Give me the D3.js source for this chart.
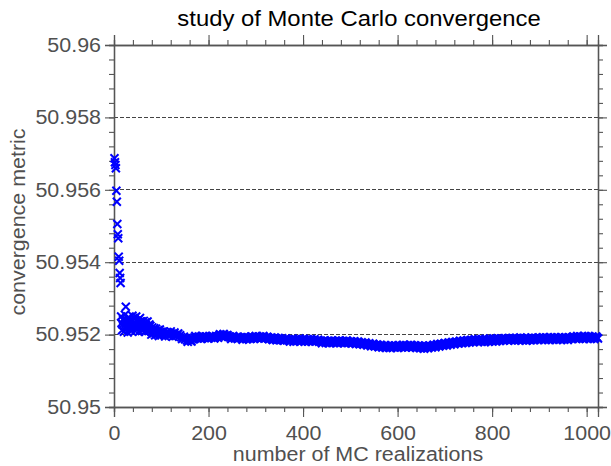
<!DOCTYPE html>
<html>
<head>
<meta charset="utf-8">
<script src="https://cdn.jsdelivr.net/npm/d3@7"></script>
<style>
  html, body { margin: 0; padding: 0; background: #fff; }
  svg { display: block; }
  text { font-family: "Liberation Sans", Arial, Helvetica, sans-serif; }
</style>
</head>
<body>
<svg id="chart" width="611" height="466"></svg>
<script>
// ---------------- data ----------------
const titleText = "study of Monte Carlo convergence";
const xLabelText = "number of MC realizations";
const yLabelText = "convergence metric";

const xDomain = [0, 1024];
const yDomain = [50.95, 50.96];
const xTickValues = [0, 200, 400, 600, 800, 1000];
const xTickLabels = ["0", "200", "400", "600", "800", "1000"];
const yTickValues = [50.95, 50.952, 50.954, 50.956, 50.958, 50.96];
const yTickLabels = ["50.95", "50.952", "50.954", "50.956", "50.958", "50.96"];
const yGridValues = [50.952, 50.954, 50.956, 50.958];

// first realizations (read individually)
const earlyRealization = [1, 2, 3, 4, 5, 6, 7, 8, 9, 10, 11, 12, 13, 14, 25];
const earlyMetric = [
  50.956870, 50.956760, 50.956685, 50.956594, 50.955975, 50.955671, 50.955055,
  50.954771, 50.954660, 50.954152, 50.954041, 50.953702, 50.953564, 50.953425,
  50.952770
];

// realizations 15..101 (odd)
const band1Start = 15, band1Step = 2;
const band1Metric = [
  50.95250, 50.95212, 50.95242, 50.95208, 50.95255, 50.95220, 50.95236, 50.95206, 50.95248, 50.95215,
  50.95240, 50.95210, 50.95252, 50.95222,
  50.95245, 50.95210, 50.95250, 50.95218, 50.95240, 50.95208, 50.95246, 50.95215, 50.95236, 50.95212,
  50.95238, 50.95208, 50.95234, 50.95212, 50.95236, 50.95210, 50.95228,
  50.95224, 50.95200, 50.95220, 50.95203, 50.95218, 50.95198, 50.95216, 50.95201, 50.95212, 50.95196,
  50.95214, 50.95199, 50.95208
];
// realizations 16..100 (even)
const band1bStart = 16, band1bStep = 2;
const band1bMetric = [
  50.95232, 50.95228, 50.95240, 50.95224, 50.95230, 50.95236, 50.95218, 50.95244, 50.95226, 50.95234,
  50.95220, 50.95238, 50.95230,
  50.95228, 50.95235, 50.95222, 50.95238, 50.95226, 50.95232, 50.95224, 50.95236, 50.95220, 50.95226,
  50.95222, 50.95228, 50.95218, 50.95226, 50.95220, 50.95224, 50.95218,
  50.95212, 50.95214, 50.95208, 50.95212, 50.95206, 50.95210, 50.95205, 50.95209, 50.95204, 50.95207,
  50.95203, 50.95205, 50.95202
];

// realizations 104..1024, every 4th
const band2Start = 104, band2Step = 4;
const band2Metric = [
  // 104-136
  50.95208, 50.95195, 50.95207, 50.95196, 50.95209, 50.95194, 50.95206, 50.95197, 50.95203,
  // 140-148
  50.95198, 50.95188, 50.95194,
  // 152-164
  50.95190, 50.95180, 50.95188, 50.95181,
  // 168-204
  50.95187, 50.95196, 50.95189, 50.95195, 50.95188, 50.95196, 50.95190, 50.95195, 50.95189, 50.95194,
  // 208-220
  50.95197, 50.95189, 50.95196, 50.95191,
  // 224-240
  50.95201, 50.95194, 50.95202, 50.95195, 50.95199,
  // 244-264
  50.95195, 50.95188, 50.95196, 50.95189, 50.95194, 50.95190,
  // 268-364
  50.95193, 50.95186, 50.95194, 50.95187, 50.95193, 50.95188, 50.95195, 50.95188, 50.95196, 50.95189,
  50.95195, 50.95190, 50.95196, 50.95189, 50.95194, 50.95187, 50.95192, 50.95185, 50.95192, 50.95184,
  50.95191, 50.95184, 50.95190, 50.95183, 50.95189,
  // 368-432
  50.95187, 50.95181, 50.95188, 50.95180, 50.95187, 50.95182, 50.95189, 50.95181, 50.95188, 50.95180,
  50.95187, 50.95181, 50.95188, 50.95180, 50.95187, 50.95181, 50.95186,
  // 436-520
  50.95183, 50.95176, 50.95184, 50.95177, 50.95183, 50.95176, 50.95184, 50.95177, 50.95183, 50.95176,
  50.95184, 50.95177, 50.95183, 50.95176, 50.95184, 50.95177, 50.95182, 50.95175, 50.95182, 50.95174,
  50.95181, 50.95173,
  // 524-576
  50.95179, 50.95172, 50.95178, 50.95170, 50.95176, 50.95168, 50.95175, 50.95167, 50.95173, 50.95165,
  50.95172, 50.95164, 50.95171, 50.95163,
  // 580-680
  50.95170, 50.95163, 50.95171, 50.95164, 50.95170, 50.95163, 50.95171, 50.95164, 50.95172, 50.95164,
  50.95171, 50.95165, 50.95172, 50.95164, 50.95171, 50.95163, 50.95170, 50.95162, 50.95169, 50.95161,
  50.95169, 50.95162, 50.95170, 50.95164, 50.95172, 50.95165,
  // 684-752
  50.95174, 50.95167, 50.95175, 50.95169, 50.95177, 50.95170, 50.95178, 50.95172, 50.95180, 50.95173,
  50.95181, 50.95175, 50.95183, 50.95176, 50.95184, 50.95177, 50.95185, 50.95178,
  // 756-820
  50.95186, 50.95179, 50.95187, 50.95180, 50.95188, 50.95180, 50.95187, 50.95179, 50.95188, 50.95180,
  50.95189, 50.95181, 50.95189, 50.95181, 50.95190, 50.95182, 50.95189,
  // 824-892
  50.95183, 50.95190, 50.95184, 50.95191, 50.95184, 50.95191, 50.95183, 50.95191, 50.95184, 50.95192,
  50.95184, 50.95191, 50.95183, 50.95191, 50.95184, 50.95192, 50.95184, 50.95191,
  // 896-964
  50.95185, 50.95192, 50.95186, 50.95193, 50.95185, 50.95192, 50.95185, 50.95193, 50.95186, 50.95193,
  50.95185, 50.95192, 50.95186, 50.95193, 50.95186, 50.95193, 50.95185, 50.95192,
  // 968-1024
  50.95188, 50.95195, 50.95189, 50.95196, 50.95188, 50.95195, 50.95188, 50.95196, 50.95189, 50.95196,
  50.95188, 50.95195, 50.95188, 50.95195, 50.95189
];

// realizations 106..1022, every 4th (in between the above)
const band2bStart = 106, band2bStep = 4;
const band2bMetric = [
  // 106-134
  50.95201, 50.95203, 50.95200, 50.95204, 50.95201, 50.95202, 50.95199, 50.95201,
  // 138-150
  50.95195, 50.95193, 50.95191, 50.95187,
  // 154-166
  50.95184, 50.95185, 50.95183, 50.95188,
  // 170-206
  50.95192, 50.95191, 50.95193, 50.95191, 50.95192, 50.95193, 50.95192, 50.95191, 50.95192, 50.95193,
  // 210-222
  50.95193, 50.95192, 50.95194, 50.95196,
  // 226-242
  50.95198, 50.95199, 50.95198, 50.95197, 50.95194,
  // 246-266
  50.95192, 50.95193, 50.95192, 50.95191, 50.95192, 50.95191,
  // 270-366
  50.95190, 50.95190, 50.95191, 50.95190, 50.95191, 50.95192, 50.95192, 50.95193, 50.95192, 50.95193,
  50.95192, 50.95193, 50.95192, 50.95191, 50.95190, 50.95189, 50.95188, 50.95188, 50.95187, 50.95187,
  50.95187, 50.95186, 50.95186, 50.95186, 50.95185,
  // 370-434
  50.95184, 50.95185, 50.95184, 50.95184, 50.95185, 50.95185, 50.95184, 50.95185, 50.95184, 50.95184,
  50.95184, 50.95185, 50.95184, 50.95184, 50.95183, 50.95184, 50.95182,
  // 438-522
  50.95180, 50.95180, 50.95181, 50.95180, 50.95180, 50.95181, 50.95180, 50.95180, 50.95180, 50.95181,
  50.95180, 50.95180, 50.95180, 50.95180, 50.95180, 50.95179, 50.95179, 50.95178, 50.95178, 50.95177,
  50.95177, 50.95176,
  // 526-578
  50.95175, 50.95175, 50.95174, 50.95173, 50.95172, 50.95171, 50.95171, 50.95170, 50.95169, 50.95168,
  50.95168, 50.95167, 50.95167, 50.95166,
  // 582-682
  50.95167, 50.95167, 50.95167, 50.95167, 50.95166, 50.95167, 50.95168, 50.95168, 50.95168, 50.95168,
  50.95168, 50.95168, 50.95168, 50.95168, 50.95167, 50.95166, 50.95166, 50.95165, 50.95165, 50.95165,
  50.95166, 50.95166, 50.95167, 50.95168, 50.95169, 50.95170,
  // 686-754
  50.95171, 50.95172, 50.95173, 50.95174, 50.95174, 50.95175, 50.95176, 50.95177, 50.95177, 50.95178,
  50.95178, 50.95179, 50.95180, 50.95181, 50.95181, 50.95182, 50.95182, 50.95183,
  // 758-822
  50.95183, 50.95184, 50.95184, 50.95184, 50.95184, 50.95183, 50.95184, 50.95184, 50.95184, 50.95185,
  50.95185, 50.95185, 50.95186, 50.95186, 50.95186, 50.95186, 50.95187,
  // 826-894
  50.95187, 50.95188, 50.95188, 50.95187, 50.95188, 50.95187, 50.95187, 50.95188, 50.95188, 50.95188,
  50.95187, 50.95187, 50.95187, 50.95188, 50.95188, 50.95188, 50.95188, 50.95189,
  // 898-966
  50.95189, 50.95189, 50.95190, 50.95189, 50.95189, 50.95189, 50.95189, 50.95190, 50.95190, 50.95189,
  50.95189, 50.95189, 50.95190, 50.95190, 50.95190, 50.95189, 50.95189, 50.95190,
  // 970-1022
  50.95192, 50.95192, 50.95192, 50.95191, 50.95192, 50.95192, 50.95192, 50.95193, 50.95192, 50.95192,
  50.95192, 50.95192, 50.95192, 50.95192
];

// ---------------- drawing ----------------
const svg = d3.select("#chart");
const M = { left: 114, right: 598, top: 45, bottom: 407 };
const axisColor = "#555555";
const textColor = "#505050";
const stretch = 1.1;
const tickFont = 19.5;

const x = d3.scaleLinear().domain(xDomain).range([M.left, M.right]);
const y = d3.scaleLinear().domain(yDomain).range([M.bottom, M.top]);

const seq = (arr, start, step) => arr.map((v, i) => ({ n: start + i * step, v }));
const points = earlyRealization.map((n, i) => ({ n, v: earlyMetric[i] }))
  .concat(seq(band1Metric, band1Start, band1Step))
  .concat(seq(band1bMetric, band1bStart, band1bStep))
  .concat(seq(band2Metric, band2Start, band2Step))
  .concat(seq(band2bMetric, band2bStart, band2bStep))
  .sort((a, b) => a.n - b.n);

// grid
svg.append("g").selectAll("line").data(yGridValues).join("line")
  .attr("x1", M.left).attr("x2", M.right)
  .attr("y1", d => y(d)).attr("y2", d => y(d))
  .attr("stroke", "#444").attr("stroke-width", 1)
  .attr("stroke-dasharray", "3.5,2.5")
  .attr("shape-rendering", "crispEdges");

const xMinor = d3.range(0, 1024.1, 40);
const yMinor = d3.range(0, 26).map(i => 50.95 + i * 0.0004);

function styleAxis(g) {
  g.select(".domain").attr("stroke", axisColor).attr("stroke-width", 1.3);
  g.selectAll(".tick line").attr("stroke", axisColor).attr("stroke-width", 1.1);
  g.selectAll("text").attr("fill", textColor).style("font-size", tickFont + "px")
    .style("font-family", '"Liberation Sans", Arial, sans-serif');
}

// minor ticks
svg.append("g").attr("transform", `translate(0,${M.bottom})`)
  .call(d3.axisBottom(x).tickValues(xMinor).tickSize(5).tickFormat(""))
  .call(styleAxis);
svg.append("g").attr("transform", `translate(0,${M.top})`)
  .call(d3.axisTop(x).tickValues(xMinor).tickSize(5).tickFormat(""))
  .call(styleAxis);
svg.append("g").attr("transform", `translate(${M.left},0)`)
  .call(d3.axisLeft(y).tickValues(yMinor).tickSize(5).tickFormat(""))
  .call(styleAxis);
svg.append("g").attr("transform", `translate(${M.right},0)`)
  .call(d3.axisRight(y).tickValues(yMinor).tickSize(5).tickFormat(""))
  .call(styleAxis);

// major ticks
svg.append("g").attr("transform", `translate(0,${M.bottom})`)
  .call(d3.axisBottom(x).tickValues(xTickValues).tickSize(10).tickPadding(9)
    .tickFormat((d, i) => xTickLabels[i]))
  .call(styleAxis);
svg.append("g").attr("transform", `translate(0,${M.top})`)
  .call(d3.axisTop(x).tickValues(xTickValues).tickSize(10).tickFormat(""))
  .call(styleAxis);
svg.append("g").attr("transform", `translate(${M.left},0)`)
  .call(d3.axisLeft(y).tickValues(yTickValues).tickSize(9).tickPadding(4)
    .tickFormat((d, i) => yTickLabels[i]))
  .call(styleAxis);
svg.append("g").attr("transform", `translate(${M.right},0)`)
  .call(d3.axisRight(y).tickValues(yTickValues).tickSize(9).tickFormat(""))
  .call(styleAxis);

// points
const s = 4;
svg.append("g").selectAll("path").data(points).join("path")
  .attr("d", `M${-s},${-s}L${s},${s}M${-s},${s}L${s},${-s}`)
  .attr("transform", d => `translate(${x(d.n)},${y(d.v)})`)
  .attr("stroke", "#0000ff").attr("stroke-width", 2).attr("fill", "none");

// labels
svg.append("text").attr("x", 359).attr("y", 26)
  .attr("text-anchor", "middle").attr("fill", "#000")
  .style("font-size", "21.7px").text(titleText);
svg.append("text").attr("x", 358).attr("y", 461)
  .attr("text-anchor", "middle").attr("fill", textColor)
  .style("font-size", "19.5px").text(xLabelText);
svg.append("text").attr("transform", "translate(25,222) rotate(-90)")
  .attr("text-anchor", "middle").attr("fill", textColor)
  .style("font-size", "19.5px").text(yLabelText);

// widen glyphs slightly to match reference text proportions
svg.selectAll("text").each(function () {
  const t = this.textContent;
  if (!t) return;
  const w = this.getComputedTextLength();
  d3.select(this).attr("textLength", w * stretch).attr("lengthAdjust", "spacingAndGlyphs");
});
</script>
</body>
</html>
